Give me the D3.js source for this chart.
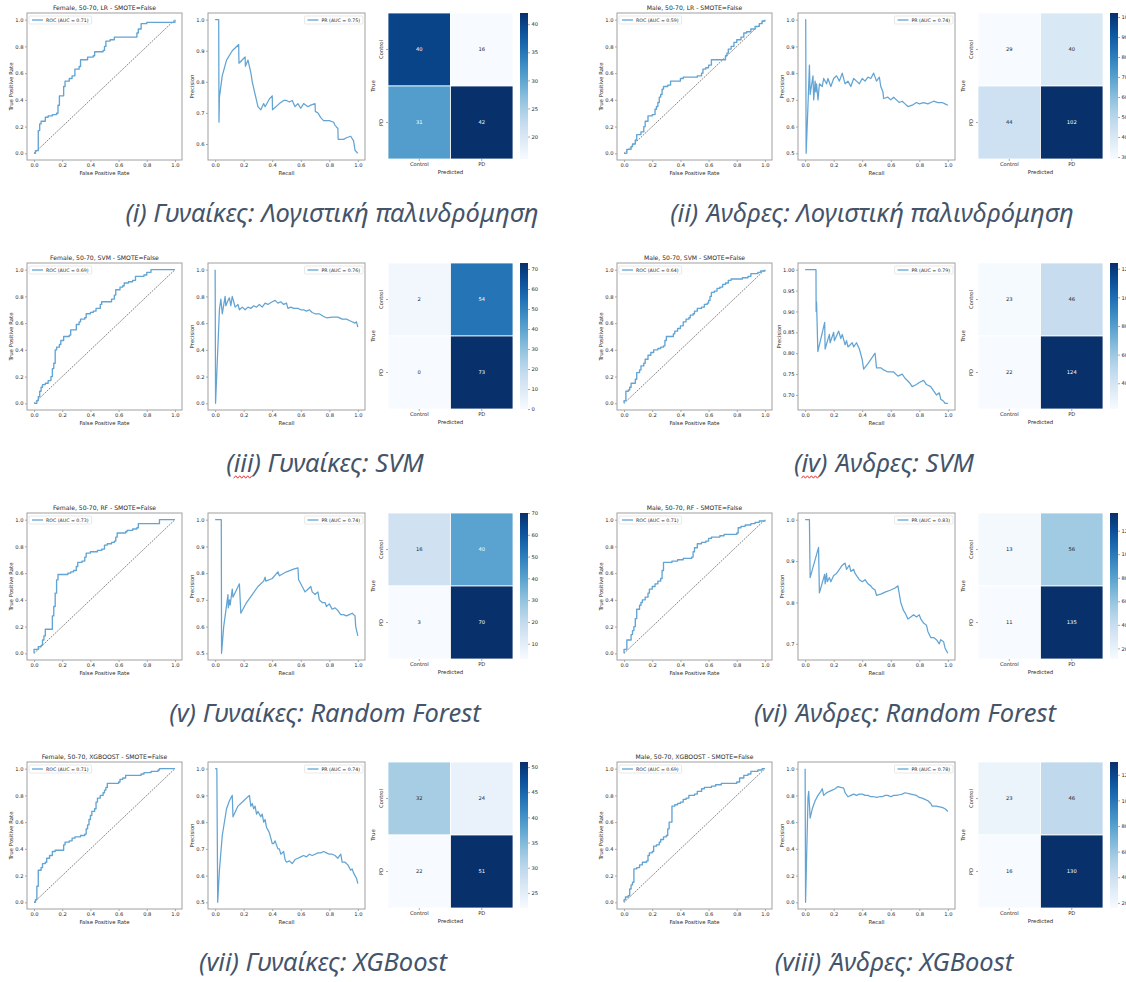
<!DOCTYPE html>
<html>
<head>
<meta charset="utf-8">
<script src="https://cdn.jsdelivr.net/npm/d3@7/dist/d3.min.js"></script>
<style>
html,body{margin:0;padding:0;background:#fff;}
svg{display:block;}
</style>
</head>
<body>
<svg id="fig" width="1126" height="982"></svg>
<script>
// ================= DATA =================
const panelTitles = [
  "Female, 50-70, LR - SMOTE=False", "Male, 50-70, LR - SMOTE=False",
  "Female, 50-70, SVM - SMOTE=False", "Male, 50-70, SVM - SMOTE=False",
  "Female, 50-70, RF - SMOTE=False", "Male, 50-70, RF - SMOTE=False",
  "Female, 50-70, XGBOOST - SMOTE=False", "Male, 50-70, XGBOOST - SMOTE=False"
];
const captions = [
  "(i) Γυναίκες: Λογιστική παλινδρόμηση", "(ii) Άνδρες: Λογιστική παλινδρόμηση",
  "(iii) Γυναίκες: SVM", "(iv) Άνδρες: SVM",
  "(v) Γυναίκες: Random Forest", "(vi) Άνδρες: Random Forest",
  "(vii) Γυναίκες: XGBoost", "(viii) Άνδρες: XGBoost"
];
const rocAucLabels = ["0.71", "0.59", "0.69", "0.64", "0.73", "0.71", "0.71", "0.69"];
const prAucLabels  = ["0.75", "0.74", "0.76", "0.79", "0.74", "0.83", "0.74", "0.78"];
const classNames = ["Control", "PD"];
const rateTicks = [0, 0.2, 0.4, 0.6, 0.8, 1.0];
const colorbarStep = [5, 10, 10, 20, 10, 20, 5, 20];

// confusion matrices [[TN, FP], [FN, TP]]
const cmFemaleLR  = [[40, 16], [31, 42]];
const cmMaleLR    = [[29, 40], [44, 102]];
const cmFemaleSVM = [[2, 54], [0, 73]];
const cmMaleSVM   = [[23, 46], [22, 124]];
const cmFemaleRF  = [[16, 40], [3, 70]];
const cmMaleRF    = [[13, 56], [11, 135]];
const cmFemaleXGB = [[32, 24], [22, 51]];
const cmMaleXGB   = [[23, 46], [16, 130]];

// ROC curves [fpr, tpr]
const rocFemaleLR = [[0,0],[0.01,0.02],[0.03,0.17],[0.04,0.22],[0.05,0.24],[0.08,0.27],[0.10,0.28],[0.13,0.29],[0.16,0.30],[0.17,0.36],[0.18,0.43],[0.21,0.50],[0.22,0.54],[0.25,0.56],[0.27,0.58],[0.29,0.63],[0.32,0.65],[0.33,0.70],[0.36,0.70],[0.38,0.72],[0.42,0.73],[0.43,0.76],[0.47,0.76],[0.49,0.77],[0.50,0.80],[0.51,0.84],[0.54,0.85],[0.57,0.87],[0.72,0.87],[0.73,0.90],[0.74,0.93],[0.76,0.97],[0.80,0.98],[0.97,0.98],[1,1]];
const rocMaleLR = [[0,0],[0.02,0.03],[0.05,0.05],[0.06,0.07],[0.08,0.10],[0.09,0.14],[0.12,0.16],[0.14,0.20],[0.15,0.24],[0.17,0.28],[0.20,0.29],[0.22,0.33],[0.23,0.35],[0.24,0.38],[0.25,0.42],[0.26,0.44],[0.27,0.48],[0.28,0.50],[0.31,0.51],[0.33,0.54],[0.37,0.54],[0.40,0.56],[0.42,0.57],[0.50,0.57],[0.52,0.58],[0.55,0.60],[0.56,0.63],[0.58,0.64],[0.60,0.66],[0.62,0.70],[0.71,0.70],[0.72,0.73],[0.73,0.75],[0.74,0.78],[0.76,0.80],[0.78,0.83],[0.80,0.85],[0.83,0.87],[0.85,0.90],[0.87,0.91],[0.90,0.93],[0.93,0.95],[0.96,0.97],[0.98,0.99],[1,1]];
const rocFemaleSVM = [[0,0],[0.02,0.02],[0.03,0.05],[0.04,0.09],[0.05,0.12],[0.06,0.14],[0.08,0.15],[0.10,0.17],[0.12,0.20],[0.13,0.26],[0.14,0.30],[0.15,0.40],[0.16,0.42],[0.18,0.44],[0.19,0.47],[0.21,0.50],[0.25,0.51],[0.26,0.55],[0.29,0.55],[0.30,0.59],[0.32,0.61],[0.33,0.63],[0.36,0.64],[0.37,0.67],[0.40,0.68],[0.42,0.69],[0.44,0.71],[0.47,0.74],[0.48,0.76],[0.53,0.76],[0.55,0.78],[0.57,0.81],[0.58,0.85],[0.61,0.87],[0.63,0.88],[0.64,0.90],[0.67,0.91],[0.70,0.92],[0.72,0.95],[0.78,0.96],[0.80,0.98],[0.83,1.0],[1,1]];
const rocMaleSVM = [[0,0],[0,0.02],[0.013,0.09],[0.03,0.10],[0.04,0.12],[0.05,0.15],[0.07,0.15],[0.08,0.18],[0.09,0.23],[0.11,0.25],[0.12,0.28],[0.14,0.30],[0.15,0.33],[0.17,0.36],[0.19,0.38],[0.21,0.40],[0.24,0.41],[0.26,0.42],[0.28,0.43],[0.29,0.47],[0.30,0.50],[0.33,0.50],[0.35,0.52],[0.36,0.54],[0.38,0.56],[0.40,0.58],[0.42,0.61],[0.44,0.63],[0.46,0.64],[0.47,0.66],[0.49,0.67],[0.50,0.69],[0.52,0.71],[0.54,0.71],[0.55,0.72],[0.57,0.74],[0.59,0.75],[0.60,0.77],[0.61,0.80],[0.62,0.83],[0.64,0.84],[0.66,0.86],[0.68,0.87],[0.70,0.89],[0.72,0.90],[0.74,0.92],[0.76,0.93],[0.80,0.93],[0.84,0.94],[0.88,0.95],[0.90,0.97],[0.93,0.97],[0.95,0.98],[0.97,0.99],[1,1]];
const rocFemaleRF = [[0,0],[0,0.03],[0.02,0.03],[0.03,0.05],[0.05,0.06],[0.06,0.10],[0.07,0.13],[0.08,0.18],[0.13,0.18],[0.13,0.28],[0.14,0.35],[0.15,0.38],[0.15,0.45],[0.16,0.55],[0.17,0.59],[0.24,0.60],[0.26,0.61],[0.28,0.62],[0.30,0.65],[0.31,0.68],[0.34,0.69],[0.36,0.72],[0.37,0.75],[0.40,0.76],[0.45,0.77],[0.48,0.78],[0.50,0.81],[0.52,0.82],[0.55,0.83],[0.57,0.84],[0.58,0.87],[0.59,0.90],[0.62,0.90],[0.65,0.91],[0.66,0.92],[0.70,0.93],[0.73,0.94],[0.74,0.97],[0.87,0.97],[0.89,1.0],[1,1]];
const rocMaleRF = [[0,0],[0,0.03],[0.02,0.06],[0.02,0.10],[0.04,0.10],[0.05,0.14],[0.06,0.17],[0.07,0.20],[0.08,0.26],[0.09,0.33],[0.11,0.36],[0.12,0.38],[0.13,0.40],[0.15,0.42],[0.17,0.45],[0.18,0.48],[0.20,0.50],[0.22,0.52],[0.24,0.54],[0.26,0.56],[0.27,0.62],[0.28,0.68],[0.30,0.68],[0.34,0.69],[0.38,0.70],[0.42,0.71],[0.48,0.72],[0.49,0.76],[0.50,0.79],[0.52,0.82],[0.55,0.83],[0.58,0.84],[0.60,0.86],[0.62,0.87],[0.65,0.87],[0.68,0.88],[0.71,0.89],[0.80,0.90],[0.81,0.94],[0.83,0.95],[0.86,0.96],[0.90,0.97],[0.93,0.98],[0.96,0.99],[1,1]];
const rocFemaleXGB = [[0,0],[0.01,0.02],[0.02,0.05],[0.02,0.12],[0.03,0.20],[0.03,0.24],[0.05,0.26],[0.06,0.29],[0.08,0.30],[0.09,0.33],[0.11,0.35],[0.13,0.38],[0.15,0.39],[0.20,0.39],[0.21,0.43],[0.22,0.45],[0.25,0.46],[0.27,0.48],[0.29,0.49],[0.33,0.50],[0.36,0.51],[0.37,0.55],[0.38,0.58],[0.39,0.62],[0.40,0.65],[0.41,0.68],[0.43,0.70],[0.44,0.75],[0.45,0.78],[0.47,0.80],[0.49,0.82],[0.50,0.84],[0.51,0.86],[0.52,0.89],[0.55,0.89],[0.60,0.90],[0.61,0.92],[0.63,0.93],[0.65,0.95],[0.74,0.95],[0.76,0.96],[0.78,0.97],[0.83,0.98],[0.88,0.99],[0.89,1.0],[1,1]];
const rocMaleXGB = [[0,0],[0,0.02],[0.01,0.04],[0.03,0.05],[0.04,0.10],[0.05,0.13],[0.06,0.15],[0.07,0.20],[0.07,0.25],[0.09,0.26],[0.11,0.28],[0.13,0.30],[0.16,0.31],[0.17,0.35],[0.18,0.37],[0.20,0.38],[0.21,0.42],[0.23,0.43],[0.25,0.45],[0.26,0.47],[0.28,0.49],[0.30,0.50],[0.31,0.55],[0.32,0.60],[0.33,0.60],[0.34,0.65],[0.34,0.72],[0.36,0.73],[0.38,0.74],[0.40,0.75],[0.42,0.77],[0.44,0.78],[0.46,0.80],[0.50,0.81],[0.52,0.83],[0.55,0.85],[0.57,0.86],[0.62,0.87],[0.65,0.88],[0.69,0.89],[0.75,0.89],[0.80,0.90],[0.82,0.93],[0.85,0.95],[0.88,0.96],[0.90,0.98],[0.95,0.99],[0.98,1.0],[1,1]];

// Precision-Recall curves [recall, precision]
const prFemaleLR = [[0,1],[0.025,1],[0.027,0.67],[0.03,0.75],[0.05,0.82],[0.08,0.87],[0.12,0.90],[0.165,0.92],[0.167,0.86],[0.21,0.88],[0.212,0.85],[0.23,0.87],[0.25,0.83],[0.26,0.80],[0.27,0.78],[0.28,0.76],[0.29,0.74],[0.30,0.72],[0.32,0.71],[0.34,0.73],[0.35,0.72],[0.38,0.745],[0.40,0.755],[0.402,0.71],[0.45,0.73],[0.48,0.74],[0.50,0.74],[0.52,0.735],[0.54,0.74],[0.56,0.72],[0.58,0.73],[0.60,0.715],[0.62,0.73],[0.65,0.72],[0.67,0.725],[0.70,0.73],[0.702,0.705],[0.72,0.70],[0.74,0.685],[0.76,0.675],[0.80,0.675],[0.83,0.67],[0.84,0.66],[0.86,0.65],[0.862,0.615],[0.90,0.615],[0.92,0.62],[0.95,0.625],[0.97,0.61],[0.98,0.58],[1,0.57]];
const prMaleLR = [[0,1],[0.004,1],[0.007,0.5],[0.02,0.68],[0.03,0.83],[0.035,0.72],[0.055,0.79],[0.06,0.70],[0.07,0.77],[0.075,0.73],[0.08,0.76],[0.09,0.70],[0.10,0.76],[0.12,0.75],[0.13,0.78],[0.15,0.76],[0.16,0.78],[0.18,0.75],[0.20,0.78],[0.22,0.79],[0.24,0.77],[0.26,0.80],[0.28,0.76],[0.30,0.77],[0.32,0.75],[0.34,0.78],[0.36,0.77],[0.38,0.76],[0.40,0.78],[0.42,0.77],[0.44,0.785],[0.46,0.78],[0.48,0.80],[0.50,0.77],[0.52,0.785],[0.53,0.75],[0.545,0.73],[0.55,0.705],[0.58,0.71],[0.60,0.70],[0.62,0.71],[0.64,0.70],[0.66,0.69],[0.68,0.695],[0.70,0.685],[0.72,0.675],[0.75,0.68],[0.78,0.69],[0.80,0.685],[0.83,0.69],[0.86,0.685],[0.88,0.69],[0.90,0.695],[0.93,0.69],[0.96,0.69],[0.98,0.685],[1,0.68]];
const prFemaleSVM = [[0,1],[0.003,0],[0.03,0.70],[0.04,0.78],[0.05,0.67],[0.07,0.80],[0.075,0.73],[0.09,0.77],[0.10,0.79],[0.11,0.73],[0.12,0.80],[0.13,0.76],[0.14,0.72],[0.16,0.74],[0.17,0.70],[0.19,0.72],[0.21,0.70],[0.23,0.72],[0.25,0.71],[0.27,0.73],[0.29,0.72],[0.31,0.74],[0.33,0.72],[0.35,0.75],[0.37,0.74],[0.40,0.76],[0.42,0.77],[0.44,0.75],[0.46,0.76],[0.48,0.74],[0.50,0.75],[0.51,0.71],[0.53,0.72],[0.55,0.71],[0.58,0.71],[0.60,0.70],[0.62,0.70],[0.64,0.69],[0.66,0.70],[0.68,0.68],[0.70,0.67],[0.73,0.67],[0.76,0.65],[0.78,0.64],[0.82,0.645],[0.86,0.645],[0.89,0.63],[0.92,0.63],[0.94,0.62],[0.96,0.61],[0.98,0.60],[0.99,0.61],[1,0.57]];
const prMaleSVM = [[0,1],[0.076,1],[0.077,0.90],[0.08,0.923],[0.089,0.804],[0.137,0.874],[0.14,0.81],[0.17,0.845],[0.175,0.825],[0.20,0.85],[0.205,0.83],[0.235,0.853],[0.25,0.835],[0.26,0.845],[0.28,0.82],[0.29,0.83],[0.30,0.815],[0.33,0.825],[0.34,0.815],[0.36,0.825],[0.38,0.81],[0.40,0.785],[0.41,0.762],[0.44,0.775],[0.47,0.79],[0.49,0.80],[0.50,0.765],[0.53,0.765],[0.55,0.76],[0.58,0.755],[0.62,0.755],[0.65,0.745],[0.68,0.75],[0.70,0.74],[0.73,0.73],[0.75,0.72],[0.78,0.725],[0.80,0.73],[0.83,0.735],[0.85,0.725],[0.88,0.72],[0.90,0.71],[0.92,0.70],[0.94,0.705],[0.95,0.69],[0.97,0.685],[0.98,0.68],[1,0.68]];
const prFemaleRF = [[0,1],[0.043,1],[0.045,0.50],[0.06,0.60],[0.075,0.66],[0.09,0.72],[0.092,0.67],[0.10,0.70],[0.105,0.68],[0.12,0.74],[0.125,0.71],[0.17,0.76],[0.18,0.65],[0.22,0.69],[0.26,0.72],[0.30,0.75],[0.34,0.77],[0.35,0.785],[0.355,0.77],[0.40,0.78],[0.44,0.805],[0.45,0.79],[0.50,0.805],[0.55,0.815],[0.58,0.82],[0.585,0.775],[0.60,0.76],[0.62,0.74],[0.63,0.73],[0.65,0.74],[0.67,0.75],[0.68,0.73],[0.70,0.72],[0.72,0.73],[0.73,0.70],[0.75,0.69],[0.77,0.69],[0.78,0.675],[0.80,0.685],[0.82,0.665],[0.84,0.67],[0.86,0.66],[0.88,0.645],[0.90,0.645],[0.92,0.64],[0.94,0.645],[0.96,0.65],[0.98,0.64],[0.985,0.60],[1,0.565]];
const prMaleRF = [[0,1],[0.03,1],[0.035,0.86],[0.094,0.933],[0.10,0.823],[0.137,0.868],[0.14,0.845],[0.15,0.87],[0.155,0.85],[0.17,0.86],[0.18,0.85],[0.20,0.865],[0.22,0.87],[0.24,0.88],[0.26,0.89],[0.28,0.895],[0.29,0.88],[0.30,0.885],[0.31,0.89],[0.32,0.875],[0.34,0.88],[0.35,0.87],[0.37,0.86],[0.38,0.855],[0.40,0.85],[0.42,0.855],[0.44,0.845],[0.46,0.84],[0.47,0.835],[0.49,0.83],[0.50,0.817],[0.53,0.82],[0.56,0.825],[0.60,0.83],[0.63,0.835],[0.65,0.84],[0.66,0.82],[0.67,0.80],[0.69,0.78],[0.70,0.775],[0.72,0.76],[0.74,0.765],[0.76,0.77],[0.78,0.765],[0.80,0.77],[0.81,0.76],[0.83,0.75],[0.85,0.745],[0.86,0.73],[0.88,0.715],[0.90,0.715],[0.92,0.71],[0.94,0.70],[0.95,0.71],[0.97,0.705],[0.98,0.69],[1,0.677]];
const prFemaleXGB = [[0,1],[0.012,1],[0.018,0.50],[0.03,0.62],[0.05,0.75],[0.08,0.85],[0.10,0.88],[0.12,0.90],[0.125,0.82],[0.16,0.86],[0.20,0.88],[0.24,0.90],[0.25,0.86],[0.26,0.87],[0.27,0.85],[0.28,0.86],[0.29,0.83],[0.30,0.84],[0.32,0.82],[0.33,0.83],[0.34,0.80],[0.35,0.81],[0.36,0.78],[0.37,0.77],[0.38,0.76],[0.39,0.74],[0.40,0.72],[0.41,0.72],[0.42,0.73],[0.44,0.70],[0.45,0.70],[0.46,0.68],[0.48,0.69],[0.49,0.66],[0.50,0.65],[0.52,0.655],[0.54,0.645],[0.56,0.66],[0.58,0.665],[0.60,0.67],[0.62,0.675],[0.64,0.67],[0.66,0.68],[0.68,0.675],[0.70,0.68],[0.72,0.685],[0.74,0.685],[0.76,0.69],[0.78,0.685],[0.80,0.68],[0.82,0.68],[0.84,0.675],[0.86,0.665],[0.88,0.68],[0.89,0.65],[0.91,0.65],[0.93,0.64],[0.95,0.62],[0.96,0.625],[0.97,0.61],[0.98,0.60],[0.99,0.59],[1,0.57]];
const prMaleXGB = [[0,1],[0.003,0],[0.02,0.78],[0.025,0.83],[0.035,0.63],[0.05,0.70],[0.07,0.76],[0.09,0.80],[0.11,0.83],[0.12,0.85],[0.13,0.80],[0.15,0.82],[0.17,0.83],[0.19,0.84],[0.21,0.85],[0.23,0.866],[0.25,0.86],[0.27,0.855],[0.28,0.82],[0.30,0.79],[0.32,0.80],[0.34,0.81],[0.36,0.80],[0.38,0.81],[0.40,0.81],[0.42,0.80],[0.44,0.80],[0.46,0.79],[0.48,0.79],[0.50,0.785],[0.52,0.79],[0.54,0.79],[0.56,0.80],[0.58,0.80],[0.60,0.79],[0.62,0.80],[0.64,0.80],[0.66,0.805],[0.68,0.81],[0.70,0.82],[0.74,0.81],[0.78,0.80],[0.80,0.785],[0.82,0.78],[0.84,0.77],[0.86,0.76],[0.88,0.74],[0.89,0.72],[0.92,0.72],[0.94,0.715],[0.96,0.71],[0.98,0.70],[1,0.68]];

const rocCurves = [rocFemaleLR, rocMaleLR, rocFemaleSVM, rocMaleSVM, rocFemaleRF, rocMaleRF, rocFemaleXGB, rocMaleXGB];
const prCurves  = [prFemaleLR, prMaleLR, prFemaleSVM, prMaleSVM, prFemaleRF, prMaleRF, prFemaleXGB, prMaleXGB];
const confMats  = [cmFemaleLR, cmMaleLR, cmFemaleSVM, cmMaleSVM, cmFemaleRF, cmMaleRF, cmFemaleXGB, cmMaleXGB];

// ================= LAYOUT / STYLE =================
const FONT = "DejaVu Sans, sans-serif";
const TXT = "#2a2a2a";
const FRAME = "#a0a0a0";
const LINE = "#62a4d4";
const colX = [0, 590];
const rowY = [0, 250, 500, 749];
const B = {rocL: 27, rocR: 182, prL: 208, prR: 365, hmL: 388, hmR: 513, cbL: 520, cbR: 528, top: 13, bottom: 160, hmBottom: 159};
const captionX = [332, 872, 325, 884, 325, 905, 323, 894];
const captionBase = 222;
const captionSize = 25.5;
const squiggleCaptions = [2, 3];

const svg = d3.select("#fig");
const defs = svg.append("defs");

function styleAxis(a) {
  a.select(".domain").remove();
  a.selectAll("line").attr("stroke", "#555").attr("stroke-width", 0.5);
  a.selectAll("text").attr("font-size", 5.2).attr("fill", TXT).attr("font-family", FONT);
}

function axesBase(g, x, y, xt, yt, xf, yf, xlab, ylab) {
  const [x0, x1] = x.range(), [y0, y1] = y.range();
  const ax = g.append("g").attr("transform", `translate(0,${y0})`)
    .call(d3.axisBottom(x).tickValues(xt).tickFormat(xf).tickSize(2).tickPadding(1.5));
  styleAxis(ax);
  const ay = g.append("g").attr("transform", `translate(${x0},0)`)
    .call(d3.axisLeft(y).tickValues(yt).tickFormat(yf).tickSize(2).tickPadding(1.5));
  styleAxis(ay);
  let maxW = 0;
  ay.selectAll("text").each(function () { maxW = Math.max(maxW, this.getComputedTextLength()); });
  g.append("text").attr("x", (x0 + x1) / 2).attr("y", y0 + 15).attr("text-anchor", "middle")
    .attr("font-size", 5.4).attr("font-family", FONT).attr("fill", TXT).text(xlab);
  const lx = x0 - 3.5 - maxW - 1.8;
  g.append("text").attr("transform", `translate(${lx},${(y0 + y1) / 2}) rotate(-90)`)
    .attr("text-anchor", "middle").attr("font-size", 5.4).attr("font-family", FONT).attr("fill", TXT).text(ylab);
}

function frame(g, x, y) {
  const [x0, x1] = x.range(), [y0, y1] = y.range();
  g.append("rect").attr("x", x0).attr("y", y1).attr("width", x1 - x0).attr("height", y0 - y1)
    .attr("fill", "none").attr("stroke", FRAME).attr("stroke-width", 1);
}

function legend(g, label, side, x0, x1, top) {
  const lg = g.append("g");
  const t = lg.append("text").attr("font-size", 4.7).attr("font-family", FONT).attr("fill", TXT).text(label);
  const tw = t.node().getComputedTextLength();
  const w = tw + 20, h = 8;
  const bx = side === "left" ? x0 + 2 : x1 - 2 - w;
  const by = top + 3;
  lg.insert("rect", "text").attr("x", bx).attr("y", by).attr("width", w).attr("height", h).attr("rx", 1)
    .attr("fill", "#fff").attr("fill-opacity", 0.85).attr("stroke", "#d2d2d2").attr("stroke-width", 0.5);
  lg.append("line").attr("x1", bx + 3).attr("x2", bx + 14).attr("y1", by + h / 2).attr("y2", by + h / 2)
    .attr("stroke", LINE).attr("stroke-width", 1.3);
  t.attr("x", bx + 17).attr("y", by + h / 2 + 1.7);
}

function relLum(c) {
  const rgb = d3.rgb(c);
  const f = v => { v /= 255; return v <= 0.03928 ? v / 12.92 : Math.pow((v + 0.055) / 1.055, 2.4); };
  return 0.2126 * f(rgb.r) + 0.7152 * f(rgb.g) + 0.0722 * f(rgb.b);
}

const fmt1 = d3.format(".1f");

for (let i = 0; i < 8; i++) {
  const col = i % 2, row = Math.floor(i / 2);
  const g = svg.append("g").attr("transform", `translate(${colX[col]},${rowY[row]})`);

  // ---------- ROC ----------
  {
    const x = d3.scaleLinear().domain([-0.05, 1.05]).range([B.rocL, B.rocR]);
    const y = d3.scaleLinear().domain([-0.05, 1.05]).range([B.bottom, B.top]);
    axesBase(g, x, y, rateTicks, rateTicks, fmt1, fmt1, "False Positive Rate", "True Positive Rate");
    g.append("path").datum([[0, 0], [1, 1]])
      .attr("d", d3.line().x(d => x(d[0])).y(d => y(d[1])))
      .attr("fill", "none").attr("stroke", "#3a3a3a").attr("stroke-width", 0.65).attr("stroke-dasharray", "1.8,1.1");
    g.append("path").datum(rocCurves[i])
      .attr("d", d3.line().x(d => x(d[0])).y(d => y(d[1])).curve(d3.curveStepAfter))
      .attr("fill", "none").attr("stroke", LINE).attr("stroke-width", 1.35).attr("stroke-linejoin", "round");
    legend(g, `ROC (AUC = ${rocAucLabels[i]})`, "left", B.rocL, B.rocR, B.top);
    frame(g, x, y);
    g.append("text").attr("x", (B.rocL + B.rocR) / 2).attr("y", 9.5).attr("text-anchor", "middle")
      .attr("font-size", 6.1).attr("font-family", FONT).attr("fill", TXT).text(panelTitles[i]);
  }

  // ---------- PR ----------
  {
    const pts = prCurves[i];
    const ex = d3.extent(pts, d => d[0]);
    const ey = d3.extent(pts, d => d[1]);
    const sx = ex[1] - ex[0], sy = ey[1] - ey[0];
    const x = d3.scaleLinear().domain([ex[0] - 0.05 * sx, ex[1] + 0.05 * sx]).range([B.prL, B.prR]);
    const y = d3.scaleLinear().domain([ey[0] - 0.05 * sy, ey[1] + 0.05 * sy]).range([B.bottom, B.top]);
    const [d0, d1] = y.domain();
    const yt = d3.ticks(d0, d1, 5);
    const step = d3.tickStep(d0, d1, 5);
    const yf = d3.format("." + d3.precisionFixed(step) + "f");
    axesBase(g, x, y, rateTicks, yt, fmt1, yf, "Recall", "Precision");
    g.append("path").datum(pts)
      .attr("d", d3.line().x(d => x(d[0])).y(d => y(d[1])))
      .attr("fill", "none").attr("stroke", LINE).attr("stroke-width", 1.25).attr("stroke-linejoin", "round");
    legend(g, `PR (AUC = ${prAucLabels[i]})`, "right", B.prL, B.prR, B.top);
    frame(g, x, y);
  }

  // ---------- Confusion matrix ----------
  {
    const cm = confMats[i];
    const flat = cm.flat();
    const vmin = d3.min(flat), vmax = d3.max(flat);
    const color = d3.scaleSequential(d3.interpolateBlues).domain([vmin, vmax]);
    const xb = d3.scaleBand().domain([0, 1]).range([B.hmL, B.hmR]);
    const yb = d3.scaleBand().domain([0, 1]).range([B.top, B.hmBottom]);
    const cells = [];
    cm.forEach((r, ri) => r.forEach((v, ci) => cells.push({ri, ci, v})));
    g.selectAll(null).data(cells).enter().append("rect")
      .attr("x", d => xb(d.ci)).attr("y", d => yb(d.ri))
      .attr("width", xb.bandwidth()).attr("height", yb.bandwidth())
      .attr("fill", d => color(d.v)).attr("stroke", "#fff").attr("stroke-width", 0.8);
    g.selectAll(null).data(cells).enter().append("text")
      .attr("x", d => xb(d.ci) + xb.bandwidth() / 2).attr("y", d => yb(d.ri) + yb.bandwidth() / 2 + 1.8)
      .attr("text-anchor", "middle").attr("font-size", 5.2).attr("font-family", FONT)
      .attr("fill", d => relLum(color(d.v)) > 0.408 ? "#262626" : "#fff").text(d => d.v);

    const xa = g.append("g").attr("transform", `translate(0,${B.hmBottom})`)
      .call(d3.axisBottom(xb).tickFormat(d => classNames[d]).tickSize(2).tickPadding(1.5));
    styleAxis(xa);
    const ya = g.append("g").attr("transform", `translate(${B.hmL},0)`)
      .call(d3.axisLeft(yb).tickFormat(d => classNames[d]).tickSize(2).tickPadding(1.5));
    styleAxis(ya);
    ya.selectAll("text").attr("text-anchor", "middle").attr("dy", 0)
      .attr("transform", "rotate(-90)").attr("x", 0).attr("y", -5.5);
    g.append("text").attr("x", (B.hmL + B.hmR) / 2).attr("y", B.hmBottom + 15).attr("text-anchor", "middle")
      .attr("font-size", 5.4).attr("font-family", FONT).attr("fill", TXT).text("Predicted");
    g.append("text").attr("transform", `translate(${B.hmL - 13},${(B.top + B.hmBottom) / 2}) rotate(-90)`)
      .attr("text-anchor", "middle").attr("font-size", 5.4).attr("font-family", FONT).attr("fill", TXT).text("True");

    // colorbar
    const gid = "cbgrad" + i;
    const grad = defs.append("linearGradient").attr("id", gid).attr("x1", 0).attr("y1", 1).attr("x2", 0).attr("y2", 0);
    d3.range(0, 1.0001, 0.05).forEach(t => grad.append("stop").attr("offset", t).attr("stop-color", d3.interpolateBlues(t)));
    g.append("rect").attr("x", B.cbL).attr("y", B.top).attr("width", B.cbR - B.cbL).attr("height", B.hmBottom - B.top)
      .attr("fill", `url(#${gid})`);
    const cy = d3.scaleLinear().domain([vmin, vmax]).range([B.hmBottom, B.top]);
    const st = colorbarStep[i];
    const cticks = d3.range(Math.ceil(vmin / st) * st, vmax + 1e-9, st);
    const ca = g.append("g").attr("transform", `translate(${B.cbR},0)`)
      .call(d3.axisRight(cy).tickValues(cticks).tickFormat(d3.format("d")).tickSize(2).tickPadding(1.5));
    styleAxis(ca);
  }

  // ---------- caption ----------
  const cap = svg.append("text")
    .attr("x", captionX[i]).attr("y", rowY[row] + captionBase)
    .attr("text-anchor", "middle").attr("font-family", "'Noto Sans', 'Open Sans', sans-serif")
    .attr("font-style", "italic").attr("font-size", captionSize).attr("fill", "#44546A")
    .text(captions[i]);
  if (squiggleCaptions.includes(i)) {
    const node = cap.node();
    const close = captions[i].indexOf(")");
    const sx0 = node.getStartPositionOfChar(1).x;
    const sx1 = node.getEndPositionOfChar(close - 1).x;
    const yy = rowY[row] + captionBase + 5;
    const pts = [];
    for (let xx = sx0, k = 0; xx <= sx1; xx += 2, k++) pts.push([xx, yy + (k % 2 ? -1.2 : 1.2)]);
    svg.append("path").datum(pts).attr("d", d3.line()).attr("fill", "none")
      .attr("stroke", "#e0201b").attr("stroke-width", 0.9);
  }
}
</script>
</body>
</html>
